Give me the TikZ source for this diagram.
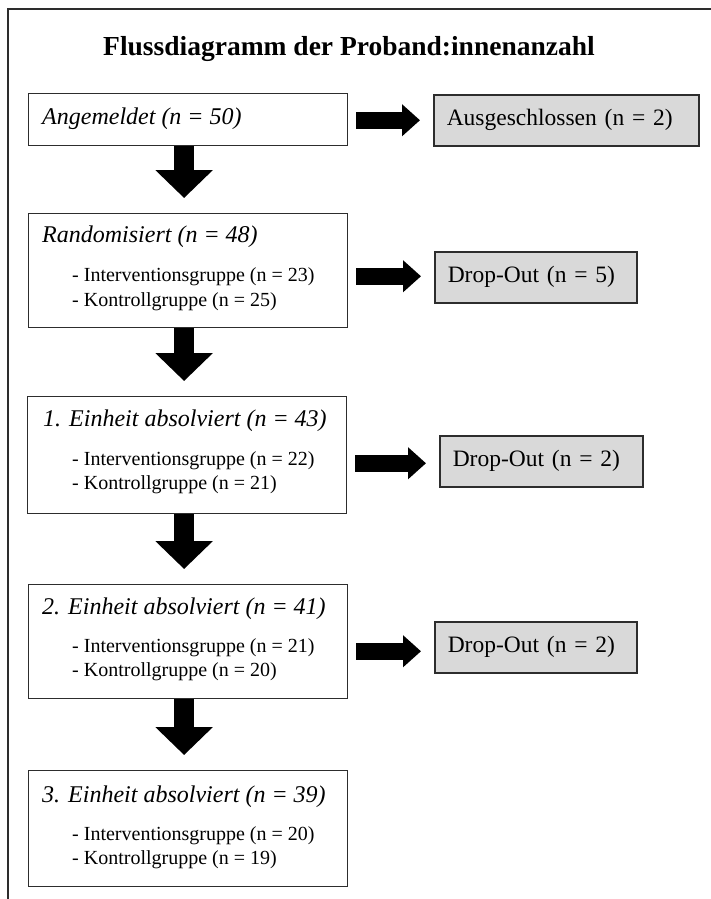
\documentclass[tikz,border=0pt]{standalone}
\usepackage{fontspec}
\setmainfont{Liberation Serif}
\usetikzlibrary{arrows.meta}

\definecolor{boxgray}{RGB}{217,217,217}
\definecolor{linegray}{RGB}{45,45,45}

\tikzset{
  flowbox/.style={draw=linegray, line width=1.2pt, anchor=north west, minimum width=319pt, inner sep=0pt},
  dropbox/.style={draw=linegray, fill=boxgray, line width=1.5pt, anchor=north west, minimum height=51pt,
    inner xsep=13pt, align=left, font=\fontsize{23.5}{28}\selectfont},
  headtext/.style={anchor=base west, inner sep=0pt, font=\fontsize{24}{28}\selectfont\itshape},
  subtext/.style={anchor=base west, inner sep=0pt, font=\fontsize{20}{24}\selectfont},
  downarrow/.style={line width=20pt, -{Triangle[width=56pt,length=28pt]}, shorten >=15pt},
  rightarrow/.style={line width=17pt, -{Triangle[width=31pt,length=18pt]}, shorten <=8pt, shorten >=13pt},
}

\begin{document}
\begin{tikzpicture}[x=1pt,y=-1pt]
  \useasboundingbox (0,0) rectangle (711,899);
  % frame
  \draw[linegray, line width=1.5pt] (8,899) -- (8,9) -- (711,9);

  \node[anchor=base, inner sep=0pt, font=\fontsize{27.5}{32}\selectfont\bfseries] (titel) at (349,56)
    {Flussdiagramm der Proband:innenanzahl};

  % left column
  \node[flowbox, minimum height=52pt] (anm) at (28,93) {};
  \node[headtext] (anmtext) at ([shift={(14,31)}]anm.north west) {Angemeldet (n = 50)};

  \node[flowbox, minimum height=114pt] (rand) at (28,213) {};
  \node[headtext] (randtext) at ([shift={(14,29)}]rand.north west) {Randomisiert (n = 48)};
  \node[subtext] (randig) at ([shift={(44,68)}]rand.north west) {- Interventionsgruppe (n = 23)};
  \node[subtext] (randkg) at ([shift={(44,93)}]rand.north west) {- Kontrollgruppe (n = 25)};

  \node[flowbox, minimum height=117pt] (einsa) at (27,396) {};
  \node[headtext] (einsatext) at ([shift={(16,30)}]einsa.north west) {1. Einheit absolviert (n = 43)};
  \node[subtext] (einsaig) at ([shift={(45,69)}]einsa.north west) {- Interventionsgruppe (n = 22)};
  \node[subtext] (einsakg) at ([shift={(45,93)}]einsa.north west) {- Kontrollgruppe (n = 21)};

  \node[flowbox, minimum height=114pt] (einsb) at (28,584) {};
  \node[headtext] (einsbtext) at ([shift={(14,30)}]einsb.north west) {2. Einheit absolviert (n = 41)};
  \node[subtext] (einsbig) at ([shift={(44,68)}]einsb.north west) {- Interventionsgruppe (n = 21)};
  \node[subtext] (einsbkg) at ([shift={(44,92)}]einsb.north west) {- Kontrollgruppe (n = 20)};

  \node[flowbox, minimum height=116pt] (einsc) at (28,770) {};
  \node[headtext] (einsctext) at ([shift={(14,32)}]einsc.north west) {3. Einheit absolviert (n = 39)};
  \node[subtext] (einscig) at ([shift={(44,70)}]einsc.north west) {- Interventionsgruppe (n = 20)};
  \node[subtext] (einsckg) at ([shift={(44,94)}]einsc.north west) {- Kontrollgruppe (n = 19)};

  % right column
  \node[dropbox, text width=239pt] (ausg) at (433,94) {Ausgeschlossen (n = 2)};
  \node[dropbox, text width=176pt] (dropa) at (434,251) {Drop-Out (n = 5)};
  \node[dropbox, text width=177pt] (dropb) at (439,435) {Drop-Out (n = 2)};
  \node[dropbox, text width=176pt] (dropc) at (434,621) {Drop-Out (n = 2)};

  % arrows
  \draw[downarrow] ([xshift=-4pt]anm.south) -- ([xshift=-4pt]rand.north);
  \draw[downarrow] ([xshift=-4pt]rand.south) -- ([xshift=-3pt]einsa.north);
  \draw[downarrow] ([xshift=-3pt]einsa.south) -- ([xshift=-4pt]einsb.north);
  \draw[downarrow] ([xshift=-4pt]einsb.south) -- ([xshift=-4pt]einsc.north);

  \draw[rightarrow] (anm.east |- ausg.west) -- (ausg.west);
  \draw[rightarrow] ([yshift=1pt]rand.east |- dropa.west) -- ([yshift=1pt]dropa.west);
  \draw[rightarrow] ([yshift=-2pt]einsa.east |- dropb.west) -- ([yshift=-2pt]dropb.west);
  \draw[rightarrow] ([yshift=-4pt]einsb.east |- dropc.west) -- ([yshift=-4pt]dropc.west);
\end{tikzpicture}
\end{document}
